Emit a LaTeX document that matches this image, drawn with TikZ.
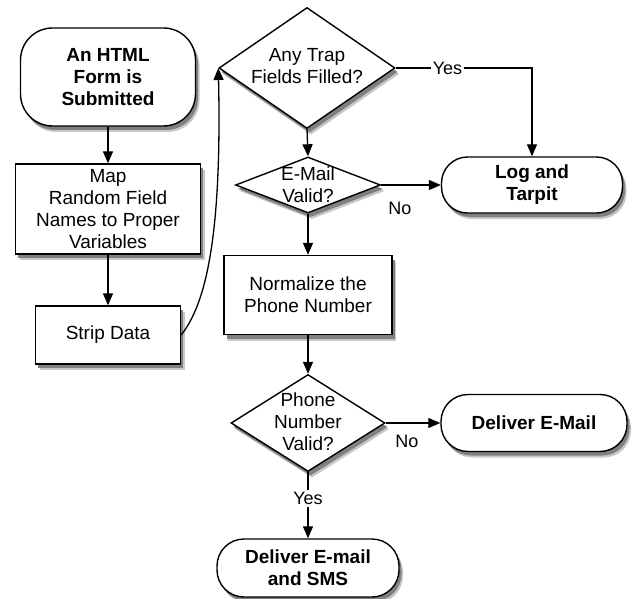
\documentclass[tikz,border=0pt]{standalone}
\usepackage{fontspec}
\setmainfont{Liberation Sans}
\usetikzlibrary{arrows.meta,shapes.geometric}
\definecolor{shadowout}{gray}{0.78}
\definecolor{shadowin}{gray}{0.5}
\newcommand{\shadowpair}[4]{% #1 shape options, #2 x, #3 y, #4 name
  \node[#1, fill=shadowout, draw=none] (#4-s1) at (#2+4,#3+6) {};
  \node[#1, fill=shadowin, draw=none] (#4-s2) at (#2+2.5,#3+4) {};
}
\begin{document}
\begin{tikzpicture}[x=1pt,y=-1pt,
  base/.style={draw, line width=1.4pt, fill=white},
  txt/.style={font=\fontsize{19}{22}\selectfont, align=center, inner sep=0pt},
  btxt/.style={font=\fontsize{19}{22}\selectfont\bfseries, align=center, inner sep=0pt},
  lbl/.style={font=\fontsize{18}{20}\selectfont, fill=white, inner sep=2pt},
  startshape/.style={rectangle, rounded corners=32pt, minimum width=175pt, minimum height=98pt, inner sep=0pt},
  logshape/.style={rectangle, rounded corners=26pt, minimum width=181pt, minimum height=56pt, inner sep=0pt},
  mailshape/.style={rectangle, rounded corners=27pt, minimum width=186pt, minimum height=57pt, inner sep=0pt},
  smsshape/.style={rectangle, rounded corners=27pt, minimum width=182pt, minimum height=58pt, inner sep=0pt},
  mapshape/.style={rectangle, minimum width=185pt, minimum height=90pt, inner sep=0pt},
  stripshape/.style={rectangle, minimum width=145pt, minimum height=58pt, inner sep=0pt},
  normshape/.style={rectangle, minimum width=168pt, minimum height=79pt, inner sep=0pt},
  trapshape/.style={diamond, minimum width=176pt, minimum height=121pt, inner sep=0pt},
  emailshape/.style={diamond, minimum width=145pt, minimum height=56pt, inner sep=0pt},
  phoneshape/.style={diamond, minimum width=154pt, minimum height=97pt, inner sep=0pt},
  arr/.style={-{Triangle[length=12pt,width=10pt]}, line width=1.3pt}]
\useasboundingbox (0,0) rectangle (632,599);

% shadows
\shadowpair{startshape}{108}{77}{start}
\shadowpair{logshape}{532}{185}{log}
\shadowpair{mailshape}{534}{423}{mail}
\shadowpair{smsshape}{308}{568}{sms}
\shadowpair{mapshape}{108}{209}{map}
\shadowpair{stripshape}{108}{335}{strip}
\shadowpair{normshape}{308}{295}{norm}
\shadowpair{trapshape}{307}{68}{trap}
\shadowpair{emailshape}{308}{185}{email}
\shadowpair{phoneshape}{308}{423}{phone}

% terminals
\node[base, startshape, btxt] (start) at (108,77) {An HTML\\Form is\\Submitted};
\node[base, logshape, btxt] (log) at (532,185) {Log and\\Tarpit};
\node[base, mailshape, btxt] (mail) at (534,423) {Deliver E-Mail};
\node[base, smsshape, btxt] (sms) at (308,568) {Deliver E-mail\\and SMS};

% process boxes
\node[base, mapshape, txt] (map) at (108,209) {Map\\Random Field\\Names to Proper\\Variables};
\node[base, stripshape, txt] (strip) at (108,335) {Strip Data};
\node[base, normshape, txt] (norm) at (308,295) {Normalize the\\Phone Number};

% decisions
\node[base, trapshape] (trap) at (307,68) {};
\node[txt] (trapt) at (307,66) {Any Trap\\Fields Filled?};
\node[base, emailshape] (email) at (308,185) {};
\node[txt] (emailt) at (308,185) {E-Mail\\Valid?};
\node[base, phoneshape] (phone) at (308,423) {};
\node[txt] (phonet) at (308,422) {Phone\\Number\\Valid?};

% connectors
\draw[arr] (start) -- (map);
\draw[arr] (map) -- (strip);
\draw[arr] (strip.east) .. controls (205,305) and (222,240) .. (trap.west);
\draw[arr] (trap.east) -| node[lbl, pos=0.19] (yes1) {Yes} (log.north);
\draw[arr] (trap.south) -- (email.north);
\draw[arr] (email.east) -- (log.west);
\node[lbl] (no1) at (400,208) {No};
\draw[arr] (email.south) -- (norm.north);
\draw[arr] (norm.south) -- (phone.north);
\draw[arr] (phone.east) -- (mail.west);
\node[lbl] (no2) at (407,441) {No};
\draw[arr] (phone.south) -- node[lbl, pos=0.4] (yes2) {Yes} (sms.north);
\end{tikzpicture}
\end{document}
